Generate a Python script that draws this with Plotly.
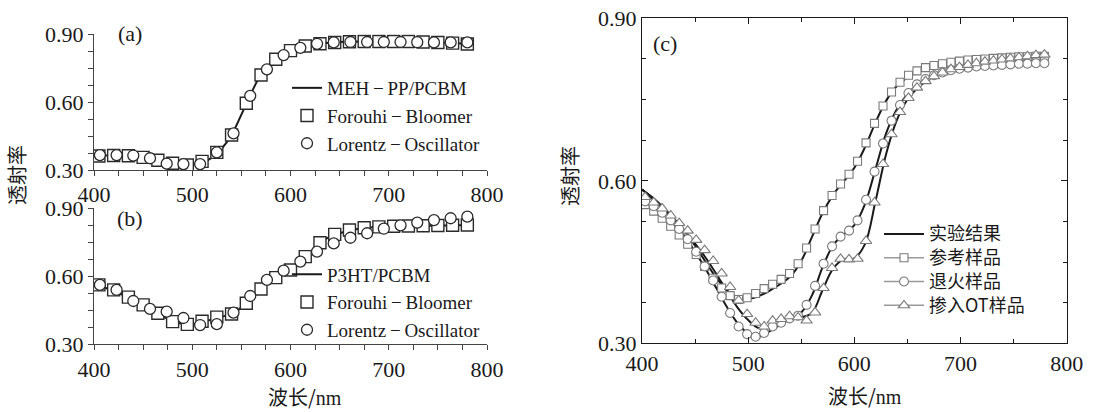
import plotly.graph_objects as go

# ---------------- panel (a): MEH-PP/PCBM ----------------
a_line_x = [404, 410, 420, 430, 440, 450, 460, 470, 480, 490, 500, 510, 520, 530, 540,
            550, 560, 570, 580, 590, 600, 610, 620, 630, 640, 650, 660, 670, 680, 690,
            700, 710, 720, 730, 740, 750, 760, 770, 780]
a_line_y = [0.362, 0.364, 0.365, 0.364, 0.362, 0.357, 0.349, 0.339, 0.330, 0.324, 0.323,
            0.332, 0.355, 0.395, 0.455, 0.545, 0.640, 0.722, 0.774, 0.807, 0.828, 0.843,
            0.853, 0.859, 0.863, 0.866, 0.867, 0.868, 0.868, 0.868, 0.868, 0.868, 0.867,
            0.866, 0.865, 0.864, 0.862, 0.860, 0.858]
fb_x = [405, 420, 435, 450, 465, 480, 495, 510, 525, 540, 555, 570, 585, 600, 615, 630,
        645, 660, 675, 690, 705, 720, 735, 750, 765, 780]
a_fb_y = [0.362, 0.364, 0.363, 0.356, 0.343, 0.330, 0.322, 0.338, 0.378, 0.455, 0.595,
          0.720, 0.790, 0.828, 0.848, 0.858, 0.864, 0.867, 0.868, 0.868, 0.868, 0.868,
          0.866, 0.864, 0.861, 0.857]
lo_x = [406, 423, 440, 457, 474, 491, 508, 525, 542, 559, 576, 593, 610, 627, 644, 661,
        678, 695, 712, 729, 746, 763, 780]
a_lo_y = [0.366, 0.366, 0.364, 0.352, 0.328, 0.326, 0.326, 0.378, 0.462, 0.628, 0.745,
          0.808, 0.840, 0.858, 0.864, 0.866, 0.866, 0.866, 0.866, 0.865, 0.864, 0.864,
          0.864]

# ---------------- panel (b): P3HT/PCBM ----------------
b_line_y = [0.560, 0.552, 0.536, 0.516, 0.495, 0.473, 0.448, 0.423, 0.403, 0.391, 0.388,
            0.396, 0.410, 0.422, 0.434, 0.462, 0.500, 0.542, 0.578, 0.602, 0.627, 0.662,
            0.705, 0.745, 0.775, 0.790, 0.802, 0.810, 0.815, 0.818, 0.820, 0.821, 0.822,
            0.823, 0.823, 0.824, 0.824, 0.825, 0.825]
b_fb_y = [0.562, 0.540, 0.508, 0.474, 0.437, 0.400, 0.388, 0.402, 0.420, 0.434, 0.481,
          0.544, 0.594, 0.628, 0.687, 0.748, 0.785, 0.804, 0.814, 0.818, 0.821, 0.822,
          0.823, 0.824, 0.825, 0.826]
b_lo_y = [0.562, 0.540, 0.491, 0.456, 0.444, 0.416, 0.385, 0.389, 0.440, 0.513, 0.584,
          0.625, 0.665, 0.709, 0.745, 0.770, 0.790, 0.810, 0.825, 0.837, 0.848, 0.856,
          0.863]

# ---------------- panel (c): measured curves and samples ----------------
c_line_x = [400, 410, 420, 430, 440, 450, 460, 470, 480, 490, 500, 510, 520, 530, 540,
            550, 560, 570, 580, 590, 600, 610, 620, 630, 640, 650, 660, 670, 680, 690,
            700, 710, 720, 730, 740, 750, 760, 770, 780]
exp_ref_y = [0.584, 0.568, 0.550, 0.530, 0.507, 0.480, 0.450, 0.421, 0.398, 0.385, 0.382,
             0.387, 0.397, 0.409, 0.424, 0.452, 0.496, 0.540, 0.574, 0.599, 0.624, 0.662,
             0.708, 0.748, 0.775, 0.791, 0.801, 0.808, 0.813, 0.817, 0.820, 0.822, 0.823,
             0.825, 0.826, 0.827, 0.828, 0.829, 0.830]
exp_ann_y = [0.584, 0.567, 0.547, 0.524, 0.498, 0.469, 0.437, 0.402, 0.367, 0.337, 0.318,
             0.312, 0.322, 0.334, 0.345, 0.357, 0.388, 0.440, 0.481, 0.501, 0.518, 0.557,
             0.622, 0.688, 0.732, 0.760, 0.778, 0.790, 0.798, 0.803, 0.807, 0.809, 0.811,
             0.812, 0.813, 0.814, 0.815, 0.816, 0.817]
exp_ot_y = [0.584, 0.569, 0.551, 0.530, 0.508, 0.484, 0.458, 0.428, 0.396, 0.366, 0.343,
            0.328, 0.328, 0.337, 0.345, 0.348, 0.356, 0.398, 0.438, 0.455, 0.457, 0.483,
            0.563, 0.650, 0.712, 0.750, 0.772, 0.787, 0.798, 0.805, 0.810, 0.814, 0.818,
            0.821, 0.824, 0.826, 0.828, 0.830, 0.832]

c_mark_x = [403, 411, 419, 427, 435, 443, 451, 459, 467, 475, 483, 491, 499, 507, 515, 523,
            531, 539, 547, 555, 563, 571, 579, 587, 595, 603, 611, 619, 627, 635, 643, 651,
            659, 667, 675, 683, 691, 699, 707, 715, 723, 731, 739, 747, 755, 763, 771, 779]
ref_y = [0.556, 0.544, 0.531, 0.516, 0.500, 0.483, 0.464, 0.442, 0.420, 0.402, 0.388, 0.381,
         0.384, 0.392, 0.401, 0.409, 0.418, 0.429, 0.447, 0.476, 0.511, 0.545, 0.573, 0.594,
         0.612, 0.636, 0.670, 0.706, 0.738, 0.764, 0.782, 0.795, 0.803, 0.809, 0.813, 0.816,
         0.819, 0.821, 0.823, 0.824, 0.825, 0.826, 0.827, 0.828, 0.829, 0.829, 0.830, 0.830]
ann_y = [0.562, 0.553, 0.541, 0.527, 0.511, 0.492, 0.469, 0.442, 0.416, 0.386, 0.356, 0.331,
         0.317, 0.312, 0.319, 0.331, 0.338, 0.346, 0.351, 0.371, 0.406, 0.447, 0.479, 0.497,
         0.508, 0.527, 0.565, 0.617, 0.669, 0.711, 0.740, 0.762, 0.778, 0.788, 0.795, 0.800,
         0.804, 0.807, 0.809, 0.811, 0.812, 0.813, 0.814, 0.815, 0.816, 0.816, 0.817, 0.817]
ot_y = [0.570, 0.560, 0.549, 0.536, 0.522, 0.508, 0.491, 0.472, 0.452, 0.429, 0.404, 0.379,
        0.354, 0.338, 0.331, 0.342, 0.345, 0.350, 0.348, 0.342, 0.357, 0.402, 0.439, 0.456,
        0.455, 0.456, 0.489, 0.560, 0.631, 0.686, 0.727, 0.753, 0.772, 0.784, 0.793, 0.800,
        0.806, 0.810, 0.814, 0.817, 0.820, 0.822, 0.824, 0.826, 0.828, 0.830, 0.832, 0.833]

W, H = 1095, 412
SERIF = "Liberation Serif"
CJK = "Noto Sans CJK SC"
INK = "#1a1a1a"
GREY = "#7a7a7a"
MINUS = "\u2009\u2212\u2009"

fig = go.Figure()

def px_x(p):
    return p / W

def px_y(p):
    return 1 - p / H

# (a) and (b): fitted curve + two model series
for ax, ly, fy, cy, name, leg in [
    ("", a_line_y, a_fb_y, a_lo_y, "MEH" + MINUS + "PP/PCBM", "legend"),
    ("2", b_line_y, b_fb_y, b_lo_y, "P3HT/PCBM", "legend2"),
]:
    xa, ya = "x" + ax, "y" + ax
    fig.add_trace(go.Scatter(x=a_line_x, y=ly, mode="lines", name=name,
                             line=dict(color=INK, width=2, shape="spline"),
                             xaxis=xa, yaxis=ya, legend=leg))
    fig.add_trace(go.Scatter(x=fb_x, y=fy, mode="markers", name="Forouhi" + MINUS + "Bloomer",
                             marker=dict(symbol="square", size=12, color="white",
                                         line=dict(color="#2a2a2a", width=1.4)),
                             xaxis=xa, yaxis=ya, legend=leg))
    fig.add_trace(go.Scatter(x=lo_x, y=cy, mode="markers", name="Lorentz" + MINUS + "Oscillator",
                             marker=dict(symbol="circle", size=11, color="white",
                                         line=dict(color="#2a2a2a", width=1.3)),
                             xaxis=xa, yaxis=ya, legend=leg))

# (c): measured curves (black) under sample markers (grey, hollow)
for i, yv in enumerate([exp_ref_y, exp_ann_y, exp_ot_y]):
    fig.add_trace(go.Scatter(x=c_line_x, y=yv, mode="lines",
                             name='<span style="font-size:18px">实验结果</span>',
                             showlegend=(i == 0),
                             line=dict(color=INK, width=2, shape="spline"),
                             xaxis="x3", yaxis="y3", legend="legend3"))

samples = [("参考样品", ref_y, "square", 8),
           ("退火样品", ann_y, "circle", 9),
           ("掺入OT样品", ot_y, "triangle-up", 10)]
for label, yv, sym, sz in samples:
    fig.add_trace(go.Scatter(x=c_mark_x, y=yv, mode="markers", showlegend=False,
                             marker=dict(symbol=sym, size=sz, color="white",
                                         line=dict(color=GREY, width=1.1)),
                             xaxis="x3", yaxis="y3"))
for label, yv, sym, sz in samples:
    fig.add_trace(go.Scatter(x=[None], y=[None], mode="lines+markers",
                             name='<span style="font-size:18px">' + label + '</span>',
                             line=dict(color="#9a9a9a", width=1.5),
                             marker=dict(symbol=sym, size=sz, color="white",
                                         line=dict(color=GREY, width=1.1)),
                             xaxis="x3", yaxis="y3", legend="legend3"))

tickfont = dict(family=SERIF, size=22, color=INK)

def ab_axes(xdom, ydom):
    xa = dict(domain=xdom, range=[400, 800], dtick=100, tick0=400, ticks="outside",
              ticklen=5, tickwidth=1, tickcolor="#444", showline=True, linecolor="#444",
              linewidth=1, showgrid=False, zeroline=False, tickfont=tickfont,
              automargin=False,
              minor=dict(dtick=25, ticks="outside", ticklen=5, tickcolor="#444"))
    ya = dict(domain=ydom, range=[0.30, 0.90], dtick=0.3, tick0=0.3, tickformat=".2f",
              ticks="outside", ticklen=5, tickwidth=1, tickcolor="#444", showline=True,
              linecolor="#444", linewidth=1, showgrid=False, zeroline=False,
              tickfont=tickfont, automargin=False,
              minor=dict(dtick=0.075, ticks="outside", ticklen=5, tickcolor="#444"))
    return xa, ya

xa1, ya1 = ab_axes([px_x(94), px_x(487)], [px_y(170), px_y(34.3)])
xa2, ya2 = ab_axes([px_x(94), px_x(487)], [px_y(344.3), px_y(208.3)])
ya1["anchor"] = "x"; xa1["anchor"] = "y"
ya2["anchor"] = "x2"; xa2["anchor"] = "y2"

xa3 = dict(domain=[px_x(642), px_x(1066.7)], anchor="y3", range=[400, 800], dtick=100,
           tick0=400, ticks="inside", ticklen=6, tickcolor=INK, showline=True,
           linecolor=INK, linewidth=1.3, mirror="ticks", showgrid=False, zeroline=False,
           tickfont=tickfont, automargin=False,
           minor=dict(dtick=50, ticks="inside", ticklen=4, tickcolor=INK))
ya3 = dict(domain=[px_y(343.3), px_y(18.3)], anchor="x3", range=[0.30, 0.90], dtick=0.3,
           tick0=0.3, tickformat=".2f", ticks="inside", ticklen=6, tickcolor=INK,
           showline=True, linecolor=INK, linewidth=1.3, mirror="ticks", showgrid=False,
           zeroline=False, tickfont=tickfont, automargin=False,
           minor=dict(dtick=0.075, ticks="inside", ticklen=4, tickcolor=INK))

legfont = dict(family=SERIF, size=19, color=INK)
fig.update_layout(
    width=W, height=H, autosize=False,
    margin=dict(l=0, r=0, t=0, b=0, pad=0, autoexpand=False),
    paper_bgcolor="white", plot_bgcolor="white",
    xaxis=xa1, yaxis=ya1, xaxis2=xa2, yaxis2=ya2, xaxis3=xa3, yaxis3=ya3,
    legend=dict(x=px_x(287), y=px_y(69), xanchor="left", yanchor="top",
                bgcolor="rgba(0,0,0,0)", font=legfont, itemwidth=30),
    legend2=dict(x=px_x(287), y=px_y(255.5), xanchor="left", yanchor="top",
                 bgcolor="rgba(0,0,0,0)", font=legfont, itemwidth=30),
    legend3=dict(x=px_x(879), y=px_y(217), xanchor="left", yanchor="top",
                 bgcolor="rgba(0,0,0,0)", font=dict(family=CJK, size=16, color=INK),
                 itemwidth=40),
    showlegend=True,
)

annots = [
    dict(text="(a)", x=px_x(130), y=px_y(34), font=dict(family=SERIF, size=22, color=INK)),
    dict(text="(b)", x=px_x(130), y=px_y(218), font=dict(family=SERIF, size=22, color=INK)),
    dict(text="(c)", x=px_x(665), y=px_y(44), font=dict(family=SERIF, size=22, color=INK)),
    dict(text="透射率", x=px_x(17), y=px_y(175), textangle=-90,
         font=dict(family=CJK, size=20, color=INK)),
    dict(text="透射率", x=px_x(569), y=px_y(176), textangle=-90,
         font=dict(family=CJK, size=20, color=INK)),
    dict(text="波长/<span style=\"font-family:'Liberation Serif'\">nm</span>",
         x=px_x(305), y=px_y(396), font=dict(family=CJK, size=20, color=INK)),
    dict(text="波长/<span style=\"font-family:'Liberation Serif'\">nm</span>",
         x=px_x(865), y=px_y(395), font=dict(family=CJK, size=20, color=INK)),
]
for an in annots:
    fig.add_annotation(xref="paper", yref="paper", showarrow=False,
                       xanchor="center", yanchor="middle", **an)

# page without default body margin so the figure fills the window exactly
fig.write_html("out.html",
               post_script="document.body.style.margin='0';"
                           "document.documentElement.style.overflow='hidden';")
